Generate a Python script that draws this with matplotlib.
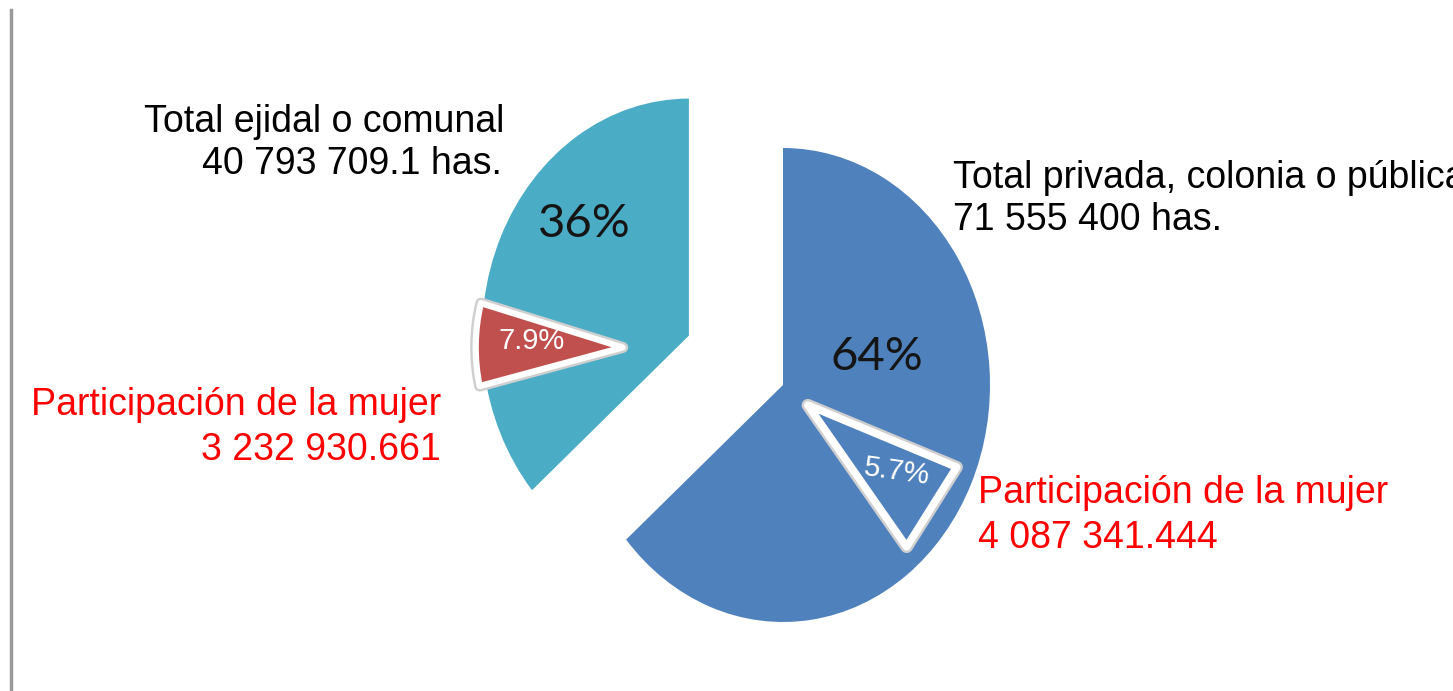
import numpy as np
import matplotlib.pyplot as plt
import matplotlib.patheffects as pe
from matplotlib.patches import Wedge, Polygon
from matplotlib.lines import Line2D

plt.rcParams['font.family'] = ['Liberation Sans', 'DejaVu Sans']

# datos (hectáreas)
tipos = ['Total privada, colonia o pública', 'Total ejidal o comunal']
hectareas = [71555400, 40793709.1]
dec_ha = [0, 1]
etiqueta_mujer = 'Participación de la mujer'
mujeres = [4087341.444, 3232930.661]
dec_mu = [3, 3]

azul = '#4F81BD'
turquesa = '#4BACC6'
rojo = '#C0504D'


def fmt(v, d):
    return f'{v:,.{d}f}'.replace(',', ' ')


W, H = 1453, 691
fig = plt.figure(figsize=(W / 100, H / 100), dpi=100)
ax = fig.add_axes([0, 0, 1, 1])

wedges, _ = ax.pie(hectareas, colors=[azul, turquesa], startangle=90,
                   counterclock=False, explode=[0, 0.5],
                   wedgeprops=dict(linewidth=0))

# el pastel original esta achatado: radio 1 = 207 px a lo ancho, 237 px a lo alto
ax.set_aspect('auto')
rx, ry = 207, 237
cx, cy = 783, 385
ax.set_xlim(-cx / rx, (W - cx) / rx)
ax.set_ylim(-(H - cy) / ry, cy / ry)
ax.axis('off')


def px(x, y):
    # posicion en pixeles de la imagen -> coordenadas de datos
    return (x - cx) / rx, (cy - y) / ry


total = sum(hectareas)
share = [m / h for m, h in zip(mujeres, hectareas)]

# sub-sector rojo (ejidal) sacado del sector turquesa
tc = wedges[1].center
c_red = (tc[0] - 0.32, tc[1] - 0.05)
half = share[1] * 360 / 2
red = Wedge(c_red, 0.71, 179 - half, 179 + half, facecolor=rojo,
            edgecolor='white', linewidth=4.5, joinstyle='round', zorder=3,
            path_effects=[pe.Stroke(linewidth=8, foreground='#cfcfcf'), pe.Normal()])
ax.add_patch(red)

# triangulo dentro del sector azul (privada)
apex = np.array([0.12, -0.085])
r_t = 0.765
angs = np.radians([-51.4, -20.0])
verts = [apex] + [apex + r_t * np.array([np.cos(a), np.sin(a)]) for a in angs]
tri = Polygon(verts, closed=True, facecolor=azul, edgecolor='white',
              linewidth=5.5, joinstyle='round', zorder=3,
              path_effects=[pe.Stroke(linewidth=9, foreground='#cfcfcf'), pe.Normal()])
ax.add_patch(tri)

# porcentajes grandes
big = dict(fontsize=34, color='#151515', ha='center', va='center', family=['Lato', 'DejaVu Sans'])
ax.text(*px(877, 357), f'{hectareas[0] / total * 100:.0f}%', **big)
ax.text(*px(584, 224), f'{hectareas[1] / total * 100:.0f}%', **big)

# porcentajes de la mujer
ax.text(*px(532, 341), f'{share[1] * 100:.1f}%', fontsize=21, color='white',
        ha='center', va='center', zorder=5)
ax.text(*px(897, 472), f'{share[0] * 100:.1f}%', fontsize=21, color='white',
        ha='center', va='center', rotation=-8, zorder=5)

# etiquetas
lab = dict(fontsize=27, va='baseline')
ax.text(*px(504, 132), tipos[1], ha='right', color='black', **lab)
ax.text(*px(502, 174), fmt(hectareas[1], dec_ha[1]) + ' has.', ha='right', color='black', **lab)
ax.text(*px(953, 188), tipos[0], ha='left', color='black', **lab)
ax.text(*px(953, 230), fmt(hectareas[0], dec_ha[0]) + ' has.', ha='left', color='black', **lab)

ax.text(*px(441, 415), etiqueta_mujer, ha='right', color='red', **lab)
ax.text(*px(441, 460), fmt(mujeres[1], dec_mu[1]), ha='right', color='red', **lab)
ax.text(*px(978, 503), etiqueta_mujer, ha='left', color='red', **lab)
ax.text(*px(978, 548), fmt(mujeres[0], dec_mu[0]), ha='left', color='red', **lab)

# linea gris a la izquierda
fig.add_artist(Line2D([10.5 / W, 10.5 / W], [0, 1 - 10 / H], color='#9a9a9a', lw=2.5))

fig.savefig('out.png', dpi=100)
